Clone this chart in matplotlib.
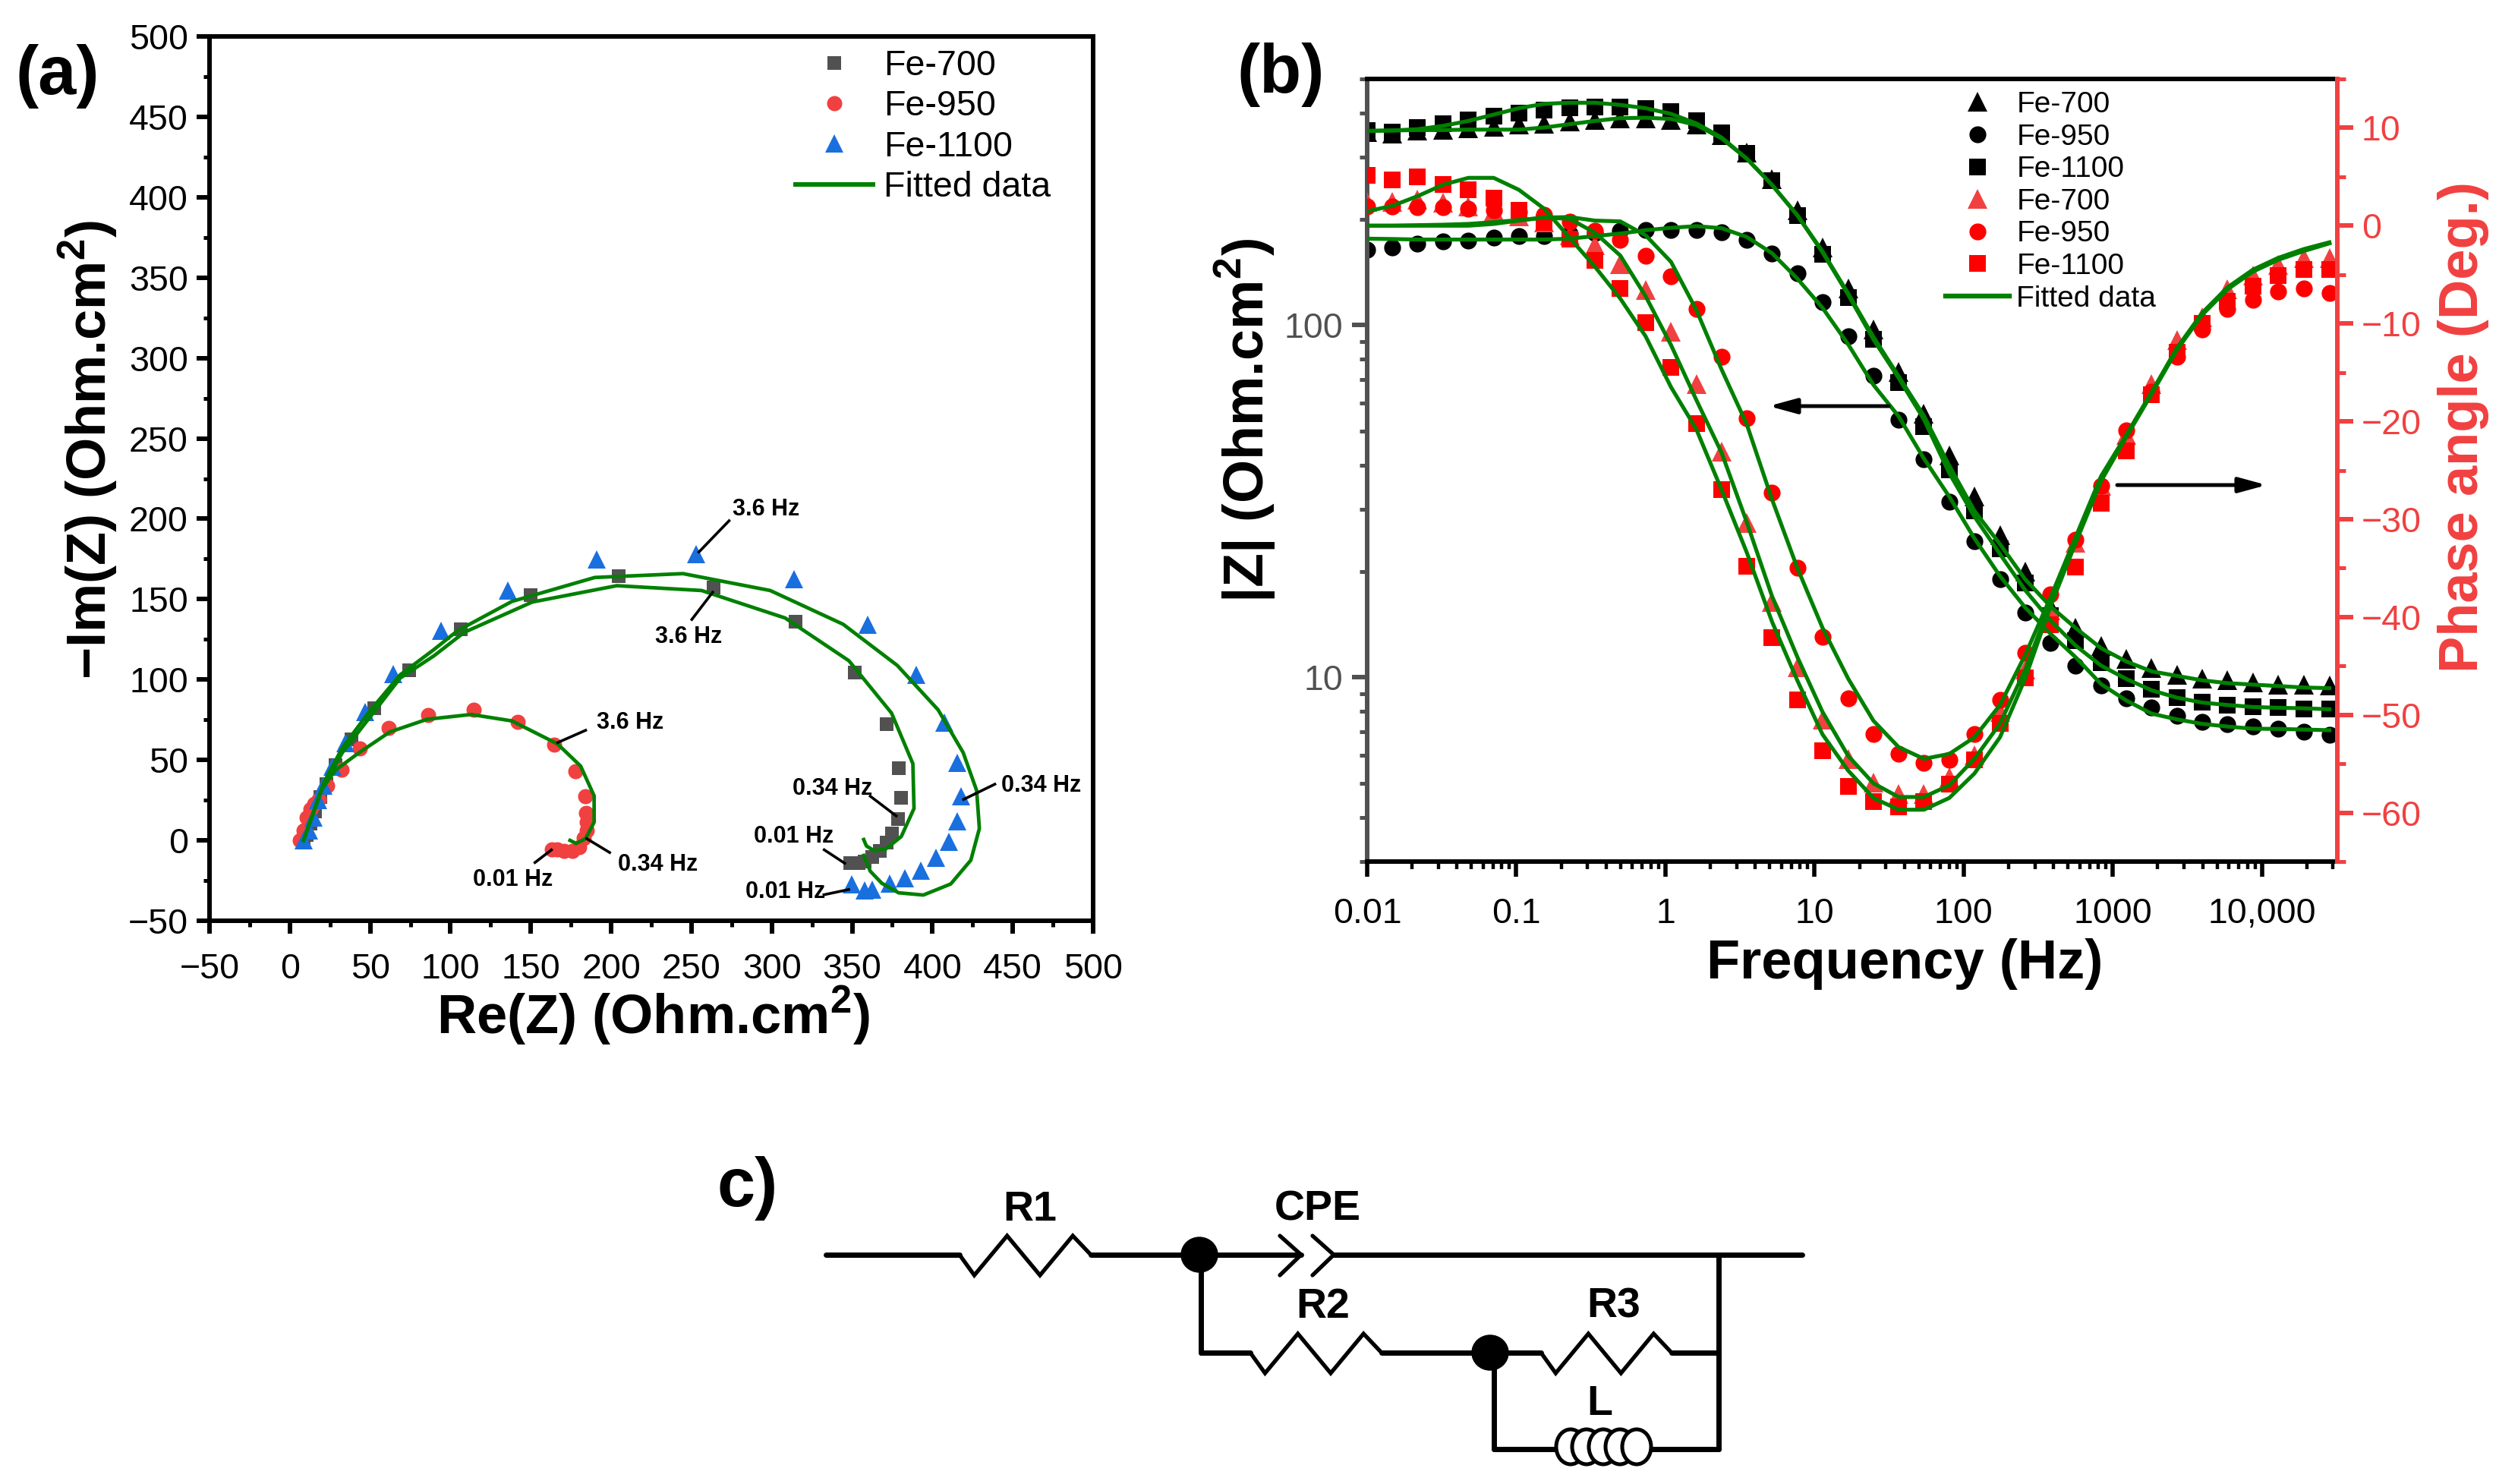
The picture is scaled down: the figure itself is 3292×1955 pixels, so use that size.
import numpy as np
import matplotlib
matplotlib.use("Agg")
import matplotlib.pyplot as plt
from matplotlib.lines import Line2D
from matplotlib.patches import Ellipse
from matplotlib.ticker import LogLocator, MultipleLocator, NullFormatter

plt.rcParams['font.family'] = ['Liberation Sans', 'DejaVu Sans']
plt.rcParams['mathtext.fontset'] = 'custom'
plt.rcParams['mathtext.rm'] = 'Liberation Sans'
plt.rcParams['mathtext.bf'] = 'Liberation Sans:bold'

# (a) Nyquist data
re_700 = [8.5, 10.6, 12.7, 15.8, 19, 22.6, 28.5, 38.4, 52.7, 74.3, 106.5, 149.8, 204.6, 263.9, 315, 351.4, 371.4, 379.1, 380.6, 378.4, 375, 371.6, 367.3, 362.5, 357.7, 354, 349]
im_700 = [0, 3.4, 10.3, 18.2, 27, 35, 46.7, 62.9, 82.2, 105.8, 131.2, 152.5, 164.3, 157.4, 136, 104.2, 72.4, 44.8, 26.5, 13.3, 4.4, -1.5, -6.4, -10.4, -13.3, -14.3, -14.3]
re_950 = [6.3, 8.5, 10.6, 12.7, 15.4, 18, 23.2, 32, 43.7, 61.6, 85.9, 114.5, 142, 164.5, 177.8, 183.7, 184.5, 185, 185, 183, 180.3, 176, 170.8, 166.6, 163]
im_950 = [0, 6.4, 14.3, 19.2, 22.5, 25.7, 34, 43.8, 57, 69.8, 78, 81.2, 73.7, 59.5, 42.8, 27.5, 17.2, 11.3, 6.4, 1.5, -4.4, -6.4, -6.4, -5.4, -5.4]
re_1100 = [8.5, 12, 14.8, 17.5, 21.1, 26.4, 34.4, 46.8, 64.3, 93.9, 135.6, 190.9, 253, 313.8, 359.8, 389.7, 407.5, 415.5, 417.9, 415.5, 410, 402, 392.8, 383, 373.3, 362.5, 357.7, 349.7]
im_1100 = [0, 6.4, 14.3, 25.1, 34, 45.8, 60.5, 80, 103.3, 130.4, 155.4, 174.7, 178, 162.3, 134, 102.9, 73.3, 48.3, 27.6, 11.9, -1, -10.9, -18.8, -23.5, -26.7, -30.6, -31, -27.5]

fit_re_700 = [8.5, 20, 32.7, 49.6, 68.6, 89.6, 108.6, 150.8, 203.5, 256.3, 308.3, 348, 374.5, 387.8, 388.5, 380.6, 370.9, 363.7, 358.9, 357.2]
fit_im_700 = [0, 32, 54.6, 76.3, 100.9, 114.7, 129.4, 148.2, 158.4, 155.4, 138.3, 111.7, 79.2, 47.7, 19.8, 2.4, -5.4, -6.4, -3.5, 0.5]
fit_re_950 = [8.5, 20, 28.5, 43.2, 62.2, 85.4, 112.9, 138.2, 166.6, 181, 189.4, 189.4, 184.1, 178.2, 174.4]
fit_im_950 = [0, 32, 43.8, 54.6, 67.4, 75.3, 78.3, 74.3, 60, 46.2, 27.7, 11.3, 1.1, -1.9, 0]
fit_re_1100 = [8.5, 21.1, 32.7, 49.6, 68.6, 89.6, 104.4, 138.2, 189.8, 244.7, 299, 344.4, 378.1, 403.5, 419.1, 427.5, 429.2, 423.9, 411.4, 394.3, 378.9, 368.5, 361.3, 357.2]
fit_im_1100 = [0, 35.9, 57.6, 80.2, 102.9, 118.6, 130.4, 148.6, 163.5, 165.9, 155.4, 134.4, 108.8, 81.2, 54.6, 31, 7.4, -12.3, -27.1, -34, -32.6, -26.7, -19.2, -9.4]

# label, text x, text y, leader x0, y0, x1, y1
hz_notes = [
    ("3.6 Hz", 296.2, 206, 254, 178.7, 274, 199.4),
    ("3.6 Hz", 248, 126.5, 263.7, 155, 249.7, 136.7),
    ("3.6 Hz", 211.9, 73.3, 166, 60.5, 184.9, 68.8),
    ("0.34 Hz", 229.2, -15.3, 184.1, 1.5, 199.8, -8),
    ("0.01 Hz", 138.8, -24.5, 163.5, -5.4, 151.9, -14.3),
    ("0.34 Hz", 337.9, 32, 378.1, 14.7, 360.6, 28),
    ("0.01 Hz", 313.6, 2.4, 346.1, -14.7, 331.9, -5.4),
    ("0.34 Hz", 467.6, 34, 418.6, 25.1, 439.6, 35.3),
    ("0.01 Hz", 308.3, -32, 348.7, -30.4, 331.6, -34),
]

# (b) Bode data
freq = [0.01, 0.0148, 0.0218, 0.0323, 0.0477, 0.0705, 0.104, 0.154, 0.228, 0.337, 0.498, 0.736, 1.09, 1.61, 2.38, 3.51, 5.19, 7.67, 11.3, 16.8, 24.8, 36.6, 54.1, 80.0, 118, 175, 258, 382, 564, 834, 1230, 1820, 2690, 3980, 5880, 8690, 12800, 19000, 28300]

z_700 = [353, 350, 356, 359, 362, 366.6, 371, 374, 378, 382, 386, 386, 382, 371, 347, 309, 260, 211.6, 166.5, 126.8, 97.4, 73.8, 56.1, 42.6, 32.7, 25.3, 20.0, 15.9, 13.8, 12.3, 11.3, 10.64, 10.19, 9.94, 9.81, 9.68, 9.54, 9.54, 9.5]
z_950 = [164, 166.5, 170, 172.7, 174, 177, 178.8, 179.4, 181.8, 182.4, 185.4, 186.3, 186.3, 186.3, 183.3, 175, 159.8, 140.6, 116.4, 93, 71.8, 54, 41.6, 31.6, 24.3, 19, 15.3, 12.5, 10.8, 9.5, 8.73, 8.2, 7.79, 7.48, 7.36, 7.24, 7.14, 7.01, 6.87]
z_1100 = [356, 353, 364, 374, 383, 393, 400, 408, 414, 416, 416, 413, 403, 381, 351, 307, 257, 205, 159, 120, 91.2, 68.6, 51.5, 38.9, 29.7, 23.2, 18.5, 15.0, 12.7, 11.0, 9.94, 9.27, 8.76, 8.51, 8.35, 8.24, 8.2, 8.12, 8.12]

phase_700 = [2.4, 2.43, 2.64, 2.37, 1.99, 1.47, 0.96, 0.31, -0.98, -2.02, -3.96, -6.55, -10.86, -16.2, -23.1, -30.4, -38.5, -45.1, -50.5, -54.5, -56.9, -58.1, -58.1, -56.4, -54.1, -49.7, -45.4, -39.3, -32.4, -26.6, -21.4, -16.2, -11.7, -9.4, -6.5, -5.1, -4.0, -3.3, -3.3]
phase_950 = [1.99, 1.99, 1.86, 1.86, 1.73, 1.6, 1.42, 1.09, 0.43, -0.52, -1.45, -3.06, -5.2, -8.5, -13.4, -19.7, -27.3, -35, -42, -48.3, -52, -54, -54.9, -54.6, -52, -48.5, -43.7, -37.7, -32.1, -26.6, -20.9, -17, -13.4, -10.6, -8.5, -7.6, -6.7, -6.4, -6.9]
phase_1100 = [5.17, 4.7, 5.0, 4.24, 3.67, 2.82, 1.6, 0.31, -1.37, -3.57, -6.42, -9.9, -14.5, -20.2, -27.0, -34.8, -42.1, -48.5, -53.7, -57.3, -58.9, -59.4, -58.9, -57.1, -54.6, -50.9, -46.2, -40.8, -34.9, -28.4, -23, -17.3, -12.9, -10.0, -7.7, -6.2, -5.1, -4.5, -4.5]

fit_z_700 = [356, 357, 358, 358, 359, 359, 359, 364, 372, 380, 387, 388, 385, 370, 339, 297, 250, 205, 162, 123, 92.6, 71.6, 55.3, 39.9, 29.7, 23.9, 19.0, 15.9, 13.8, 12.1, 11.1, 10.4, 10.1, 9.81, 9.63, 9.54, 9.45, 9.36, 9.32]
fit_z_950 = [176, 175.6, 175, 175, 175, 175, 175, 175, 176, 179, 182, 186, 189, 191, 188.5, 178, 160, 135.5, 112, 88.2, 67.7, 55.1, 41.8, 32.6, 24.8, 19.4, 15.8, 13.3, 11.4, 9.57, 8.6, 7.89, 7.6, 7.38, 7.25, 7.15, 7.14, 7.11, 7.08]
fit_z_1100 = [356, 357, 360, 368, 380, 396, 413, 425, 428, 428, 422, 413, 398, 374, 341, 297, 250, 205, 161, 122, 91.1, 70.8, 54, 38.0, 28.6, 22.4, 17.7, 14.5, 12.3, 10.8, 9.9, 9.19, 8.76, 8.48, 8.35, 8.24, 8.2, 8.17, 8.12]

fit_phase_700 = [0, 0, 0.05, 0.1, 0.18, 0.36, 0.57, 0.83, 0.70, -0.72, -3.05, -7.2, -12.2, -17.8, -23.2, -30.3, -37.9, -44.1, -49.7, -54.2, -57, -58.4, -58.4, -57.2, -54.5, -50.9, -45.4, -38.6, -32.2, -25.9, -21.5, -17.1, -12.6, -9.0, -6.4, -4.6, -3.4, -2.5, -1.75]
fit_phase_950 = [0, 0, 0, 0, 0, 0.18, 0.52, 0.83, 0.88, 0.52, 0.44, -0.98, -3.7, -8.6, -14.7, -20.3, -28, -35, -41.1, -46.3, -50.6, -53.3, -54.5, -54, -52.3, -49, -43.9, -38, -31.8, -25.6, -21.4, -17, -12.5, -8.9, -6.3, -4.5, -3.3, -2.4, -1.7]
fit_phase_1100 = [1.47, 2.04, 3.02, 4.19, 4.89, 4.89, 3.67, 1.73, -1.24, -4.2, -7.45, -11.3, -16.5, -20.8, -27, -33.4, -40.5, -46.5, -52, -55.7, -58.5, -59.7, -59.7, -58.5, -56, -52.3, -46.3, -38.9, -32.4, -26.1, -21.6, -17.2, -12.7, -9.1, -6.5, -4.7, -3.5, -2.6, -1.81]

x_ticks_b = [0.01, 0.1, 1, 10, 100, 1000, 10000]
x_labels_b = ["0.01", "0.1", "1", "10", "100", "1000", "10,000"]

W, H = 3292, 1955
GRAY = "#515151"
RED = "#F14040"
BLUE = "#1A6FDF"
GREEN = "#008000"
TICK_FS = 33.5
LABEL_FS = 52


def axes_box(left, top, right, bottom):
    return [left / W, 1 - bottom / H, (right - left) / W, (bottom - top) / H]


fig = plt.figure(figsize=(W / 100, H / 100), dpi=100)

# --- panel (a) ---
ax_a = fig.add_axes(axes_box(276, 48, 1440, 1213))
ax_a.plot(re_700, im_700, "s", color=GRAY, ms=13, mew=0, label="Fe-700")
ax_a.plot(re_950, im_950, "o", color=RED, ms=14.4, mew=0, label="Fe-950")
ax_a.plot(re_1100, im_1100, "^", color=BLUE, ms=17, mew=0, label="Fe-1100")
ax_a.plot(fit_re_700, fit_im_700, color=GREEN, lw=3.4, label="Fitted data")
ax_a.plot(fit_re_950, fit_im_950, color=GREEN, lw=3.4)
ax_a.plot(fit_re_1100, fit_im_1100, color=GREEN, lw=3.4)

for label, tx, ty, x0, y0, x1, y1 in hz_notes:
    ax_a.plot([x0, x1], [y0, y1], color="black", lw=2.6, solid_capstyle="butt")
    ax_a.text(tx, ty, label, fontsize=22, fontweight="bold", ha="center", va="center")

ax_a.set_xlim(-50, 500)
ax_a.set_ylim(-50, 500)
ax_a.set_xticks(np.arange(-50, 501, 50))
ax_a.set_yticks(np.arange(-50, 501, 50))
ax_a.xaxis.set_minor_locator(MultipleLocator(25))
ax_a.yaxis.set_minor_locator(MultipleLocator(25))
ax_a.tick_params(which="major", length=12.2, width=4.3, labelsize=TICK_FS)
ax_a.tick_params(which="minor", length=6, width=3.6)
ax_a.tick_params(axis="x", which="major", pad=18)
ax_a.tick_params(axis="y", which="major", pad=8)
for sp in ax_a.spines.values():
    sp.set_linewidth(4.3)
ax_a.set_xlabel("Re(Z) (Ohm.cm$^{\\mathbf{2}}$)", fontsize=LABEL_FS, fontweight="bold", va="center", ha="center")
ax_a.xaxis.set_label_coords(861 / W, 1 - 1338 / H, transform=fig.transFigure)
ax_a.set_ylabel("\u2212Im(Z) (Ohm.cm$^{\\mathbf{2}}$)", fontsize=LABEL_FS, fontweight="bold", va="center", ha="center")
ax_a.yaxis.set_label_coords(116 / W, 1 - 592 / H, transform=fig.transFigure)
leg_a = ax_a.legend(loc="upper left", bbox_to_anchor=(1048 / W, 1 - 65 / H), bbox_transform=fig.transFigure,
                    frameon=False, fontsize=33.5, handlelength=2.2, handletextpad=0.3, labelspacing=0.2,
                    borderpad=0, borderaxespad=0, numpoints=1)
leg_a.get_lines()[-1].set_linewidth(4.3)

# --- panel (b) ---
ax_b = fig.add_axes(axes_box(1801, 104, 3079, 1135))
ax_b.plot(freq, z_700, "^", color="black", ms=19, mew=0, label="Fe-700")
ax_b.plot(freq, z_1100, "s", color="black", ms=15.6, mew=0, label="Fe-1100")
ax_b.plot(freq, z_950, "o", color="black", ms=16, mew=0, label="Fe-950")
ax_b.set_xscale("log")
ax_b.set_yscale("log")
ax_b.set_xlim(0.01, 32000)
ax_b.set_ylim(3, 500)

ax_p = ax_b.twinx()
ax_p.set_ylim(-65, 15)
ax_p.plot(freq, phase_700, "^", color=RED, ms=19, mew=0, label="Fe-700")
ax_p.plot(freq, phase_1100, "s", color="#FF0000", ms=15.6, mew=0, label="Fe-1100")
ax_p.plot(freq, phase_950, "o", color="#FF0000", ms=16, mew=0, label="Fe-950")

# the green fits all sit above the markers of both axes
z_trans = ax_b.transData
for fit in (fit_z_700, fit_z_950, fit_z_1100):
    ax_p.plot(freq, fit, color=GREEN, lw=3.7, transform=z_trans, scalex=False, scaley=False)
for fit in (fit_phase_700, fit_phase_950, fit_phase_1100):
    ax_p.plot(freq, fit, color=GREEN, lw=3.7, scalex=False, scaley=False)

ax_b.set_xticks(x_ticks_b, x_labels_b)
ax_b.xaxis.set_minor_locator(LogLocator(base=10, subs=np.arange(2, 10), numticks=20))
ax_b.xaxis.set_minor_formatter(NullFormatter())
ax_b.set_yticks([10, 100], ["10", "100"])
ax_b.yaxis.set_minor_locator(LogLocator(base=10, subs=np.arange(2, 10), numticks=20))
ax_b.yaxis.set_minor_formatter(NullFormatter())
ax_b.set_xlim(0.01, 32000)
ax_b.set_ylim(3, 500)
ax_b.tick_params(axis="x", which="major", length=14.5, width=4, labelsize=TICK_FS, pad=19)
ax_b.tick_params(axis="x", which="minor", length=7, width=3.2)
ax_b.tick_params(axis="y", which="major", length=14.5, width=4.3, color=GRAY, labelcolor=GRAY, labelsize=TICK_FS, pad=8)
ax_b.tick_params(axis="y", which="minor", length=7.5, width=3.6, color=GRAY)
ax_p.set_yticks(np.arange(-60, 11, 10))
ax_p.yaxis.set_minor_locator(MultipleLocator(5))
ax_p.tick_params(axis="y", which="major", length=15, width=4.3, color=RED, labelcolor=RED, labelsize=TICK_FS, pad=8)
ax_p.tick_params(axis="y", which="minor", length=8, width=3.6, color=RED)

for sp in ax_b.spines.values():
    sp.set_linewidth(4.3)
ax_b.spines["left"].set_color(GRAY)
ax_b.spines["right"].set_visible(False)
for name in ("left", "top", "bottom"):
    ax_p.spines[name].set_visible(False)
ax_p.spines["right"].set_linewidth(4.3)
ax_p.spines["right"].set_color(RED)

ax_b.set_xlabel("Frequency (Hz)", fontsize=LABEL_FS, fontweight="bold", va="center", ha="center")
ax_b.xaxis.set_label_coords(2509 / W, 1 - 1270 / H, transform=fig.transFigure)
ax_b.set_ylabel("|Z| (Ohm.cm$^{\\mathbf{2}}$)", fontsize=53, fontweight="bold", va="center", ha="center")
ax_b.yaxis.set_label_coords(1640 / W, 1 - 554 / H, transform=fig.transFigure)
ax_p.set_ylabel("Phase angle (Deg.)", fontsize=LABEL_FS, fontweight="bold", color=RED, va="center", ha="center")
ax_p.yaxis.set_label_coords(3245 / W, 1 - 563 / H, transform=fig.transFigure)

legend_handles = [
    Line2D([], [], ls="", marker="^", color="black", ms=19, mew=0),
    Line2D([], [], ls="", marker="o", color="black", ms=16, mew=0),
    Line2D([], [], ls="", marker="s", color="black", ms=15.6, mew=0),
    Line2D([], [], ls="", marker="^", color=RED, ms=19, mew=0),
    Line2D([], [], ls="", marker="o", color="#FF0000", ms=16, mew=0),
    Line2D([], [], ls="", marker="s", color="#FF0000", ms=15.6, mew=0),
    Line2D([], [], color=GREEN, lw=4.6),
]
legend_labels = ["Fe-700", "Fe-950", "Fe-1100", "Fe-700", "Fe-950", "Fe-1100", "Fitted data"]
ax_p.legend(legend_handles, legend_labels, loc="upper left", bbox_to_anchor=(2563 / W, 1 - 120 / H),
            bbox_transform=fig.transFigure, frameon=False, fontsize=28, handlelength=2.15,
            handletextpad=0.25, labelspacing=0.17, borderpad=0, borderaxespad=0, numpoints=1)

# --- overlay in pixel coordinates: panel letters, arrows and circuit (c) ---
ov = fig.add_axes([0, 0, 1, 1], zorder=10)
ov.set_xlim(0, W)
ov.set_ylim(H, 0)
ov.axis("off")
ov.patch.set_alpha(0)

ov.text(21, 100, "(a)", fontsize=65, fontweight="bold", va="center", ha="left")
ov.text(1630, 98, "(b)", fontsize=65, fontweight="bold", va="center", ha="left")
ov.text(945, 1565, "c)", fontsize=65, fontweight="bold", va="center", ha="left")

arrow = dict(arrowstyle="-|>,head_length=2.2,head_width=0.6", lw=3.6, color="black",
             mutation_scale=10, shrinkA=0, shrinkB=0)
ov.annotate("", xy=(2330, 535), xytext=(2488, 535), arrowprops=arrow)
ov.annotate("", xy=(2986, 639), xytext=(2789, 639), arrowprops=arrow)


def wire(xs, ys, lw=5):
    ov.plot(xs, ys, color="black", lw=lw, solid_capstyle="round", solid_joinstyle="miter")


def resistor(x0, x1, y):
    step = (x1 - x0) / 8
    xs = [x0 + step * k for k in (0, 0.9, 2.9, 4.9, 6.9, 8)]
    ys = [y, y + 27, y - 25, y + 27, y - 25, y]
    wire(xs, ys, lw=3.8)


wire([1088, 1264], [1653, 1653])
resistor(1264, 1437, 1653)
wire([1437, 1714], [1653, 1653])
wire([1686, 1714, 1686], [1628, 1653, 1680], lw=3.8)
wire([1729, 1757, 1729], [1628, 1653, 1680], lw=3.8)
wire([1757, 2374], [1653, 1653])
ov.add_patch(Ellipse((1580, 1653), 48, 46, color="black", zorder=5))

wire([1582, 1582], [1653, 1782])
wire([1582, 1647], [1782, 1782])
resistor(1647, 1820, 1782)
wire([1820, 2030], [1782, 1782])
resistor(2030, 2202, 1782)
wire([2202, 2264], [1782, 1782])
ov.add_patch(Ellipse((1963, 1782), 48, 46, color="black", zorder=5))
wire([2264, 2264], [1653, 1909])

wire([1968, 1968], [1782, 1909])
wire([1968, 2060], [1909, 1909])
wire([2160, 2264], [1909, 1909])
for cx in (2069, 2090, 2112, 2134, 2156):
    ov.add_patch(Ellipse((cx, 1906), 38, 46, fc="white", ec="black", lw=3.6, zorder=4))

for txt, cx, cy in (("R1", 1357, 1594), ("CPE", 1736, 1594), ("R2", 1743, 1722), ("R3", 2126, 1722), ("L", 2107, 1850)):
    ov.text(cx, cy, txt, fontsize=40, fontweight="bold", ha="center", va="center")

fig.savefig("out.png", dpi=100)
